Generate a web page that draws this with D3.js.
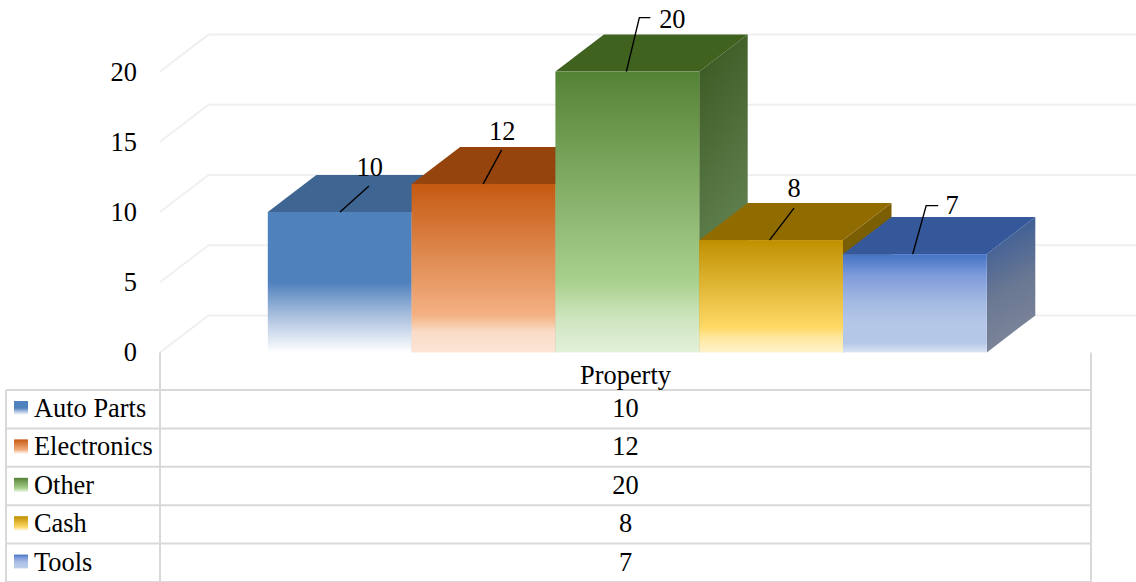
<!DOCTYPE html>
<html>
<head>
<meta charset="utf-8">
<script src="https://cdn.jsdelivr.net/npm/d3@7"></script>
<style>
html,body{margin:0;padding:0;background:#fff;overflow:hidden}
svg{display:block}
text{font-family:"Liberation Serif","Times New Roman",serif;font-size:26.4px;fill:#000}
</style>
</head>
<body>
<script>
const categories = ["Auto Parts", "Electronics", "Other", "Cash", "Tools"];
const values = [10, 12, 20, 8, 7];
const groupLabel = "Property";
const yTicks = [0, 5, 10, 15, 20];

const W = 1136, H = 582;
const frontY0 = 352.4, frontY20 = 71.6, depthX = 48.5, depthY = -37;
const wallX = 160, tableRight = 1091, tableLeft = 6, rowH = 38.4, headerBottom = 390;

const svg = d3.select("body").append("svg").attr("width", W).attr("height", H);
const defs = svg.append("defs");

const x = d3.scaleBand().domain(categories).range([267.8, 986.8]).padding(0);
const labelX = d3.scalePoint().domain(categories).range([340, 912.7]);
const y = d3.scaleLinear().domain([0, 20]).range([frontY0, frontY20]);

// Face colours
const frontStops = [
  [[0,"#4f81bd"],[0.5,"#4f81bd"],[0.72,"#a3bbdc"],[1,"#ffffff"]],
  [[0,"#c55a11"],[0.78,"#f4b183"],[0.88,"#fadcc8"],[1,"#fde4d4"]],
  [[0,"#548235"],[0.75,"#a9d18e"],[0.88,"#cfe5c0"],[1,"#e2f0d9"]],
  [[0,"#bf9000"],[0.78,"#ffd966"],[0.86,"#fee79b"],[1,"#fff2cc"]],
  [[0,"#4472c4"],[0.22,"#7f9cdb"],[0.5,"#a5bae3"],[0.7,"#b4c7e7"],[0.9,"#b4c7e7"],[1,"#dae3f3"]]
];
const topColors = ["#3f6593", "#95440e", "#40621f", "#906c00", "#34589a"];
const sideStops = [
  [[0,"#3a5f8c"],[1,"#8fa5c0"]],
  [[0,"#8c3f0c"],[1,"#b98a6b"]],
  [[0,"#38571f"],[0.72,"#5f7f4e"],[1,"#7a9070"]],
  [[0,"#7f6000"],[1,"#6f5a10"]],
  [[0,"#2f5597"],[0.6,"#6a7893"],[1,"#7c8599"]]
];

function grad(id, stops, x2, y2) {
  const g = defs.append("linearGradient").attr("id", id)
    .attr("x1", 0).attr("y1", 0).attr("x2", x2).attr("y2", y2);
  stops.forEach(s => g.append("stop").attr("offset", s[0]).attr("stop-color", s[1]));
}
categories.forEach((c, i) => {
  grad("front" + i, frontStops[i], 0, 1);
  grad("side" + i, sideStops[i], 0.2, 1);
});

// Back-wall grid
const grid = svg.append("g").attr("fill", "none").attr("stroke", "#f0f0f0").attr("stroke-width", 2);
yTicks.forEach(t => {
  grid.append("path").attr("d", d3.line()([
    [wallX, y(t)], [wallX + depthX, y(t) + depthY], [W, y(t) + depthY]
  ]));
});

// Value axis labels
const axis = d3.axisLeft(y).tickValues(yTicks).tickSize(0).tickPadding(0);
const axisG = svg.append("g").attr("transform", "translate(137,0)").call(axis);
axisG.select(".domain").remove();
axisG.selectAll("text").style("font-size", "26.4px")
  .style("font-family", '"Liberation Serif","Times New Roman",serif').attr("fill", "#000");

// Bars: drawn left to right so that each one overlaps the previous
const line = d3.line();
const bars = svg.append("g");
categories.forEach((c, i) => {
  const x0 = x(c), x1 = x0 + x.bandwidth(), yt = y(values[i]), yb = y(0);
  const g = bars.append("g");
  g.append("path").attr("fill", `url(#side${i})`)
    .attr("d", line([[x1, yt], [x1 + depthX, yt + depthY], [x1 + depthX, yb + depthY], [x1, yb]]) + "Z");
  g.append("path").attr("fill", topColors[i])
    .attr("d", line([[x0, yt], [x0 + depthX, yt + depthY], [x1 + depthX, yt + depthY], [x1, yt]]) + "Z");
  g.append("rect").attr("x", x0).attr("y", yt).attr("width", x.bandwidth()).attr("height", yb - yt)
    .attr("fill", `url(#front${i})`);
});

// Data labels with leader lines (offsets from each label anchor)
const leaderOffsets = [
  [[29, -26]],
  [[18.5, -34]],
  [[13, -54], [24, -54]],
  [[24.5, -32]],
  [[13.5, -48.5], [25.5, -48.5]]
];
const labelOffsets = [[29.7, -36], [19, -44], [46, -44], [24.5, -43], [39.5, -40]];
const labels = svg.append("g");
categories.forEach((c, i) => {
  const cx = labelX(c), cy = y(values[i]);
  const pts = [[cx, cy]].concat(leaderOffsets[i].map(o => [cx + o[0], cy + o[1]]));
  labels.append("path").attr("d", line(pts)).attr("fill", "none").attr("stroke", "#000").attr("stroke-width", 1.4);
  labels.append("text").attr("x", cx + labelOffsets[i][0]).attr("y", cy + labelOffsets[i][1])
    .attr("text-anchor", "middle").text(values[i]);
});

// Data table
const table = svg.append("g").attr("fill", "none").attr("stroke", "#d9d9d9").attr("stroke-width", 2);
const rowY = d3.scaleLinear().domain([0, categories.length]).range([headerBottom, headerBottom + rowH * categories.length]);
d3.range(categories.length + 1).forEach(r => {
  table.append("line").attr("x1", tableLeft).attr("x2", tableRight)
    .attr("y1", rowY(r)).attr("y2", rowY(r));
});
table.append("line").attr("x1", tableLeft).attr("x2", tableLeft).attr("y1", headerBottom).attr("y2", H);
table.append("line").attr("x1", wallX).attr("x2", wallX).attr("y1", frontY0).attr("y2", H);
table.append("line").attr("x1", tableRight).attr("x2", tableRight).attr("y1", frontY0).attr("y2", H);

const tableMid = (wallX + tableRight) / 2;
svg.append("text").attr("x", tableMid).attr("y", 384).attr("text-anchor", "middle").text(groupLabel);

categories.forEach((c, i) => {
  const base = rowY(i) + 27;
  defs.append("linearGradient").attr("id", "key" + i).attr("x1", 0).attr("y1", 0).attr("x2", 0).attr("y2", 1)
    .selectAll("stop").data(frontStops[i]).join("stop")
    .attr("offset", d => d[0]).attr("stop-color", d => d[1]);
  svg.append("rect").attr("x", 14).attr("y", rowY(i) + 11).attr("width", 14).attr("height", 14)
    .attr("fill", `url(#key${i})`);
  svg.append("text").attr("x", 34).attr("y", base).text(c);
  svg.append("text").attr("x", tableMid).attr("y", base).attr("text-anchor", "middle").text(values[i]);
});
</script>
</body>
</html>
